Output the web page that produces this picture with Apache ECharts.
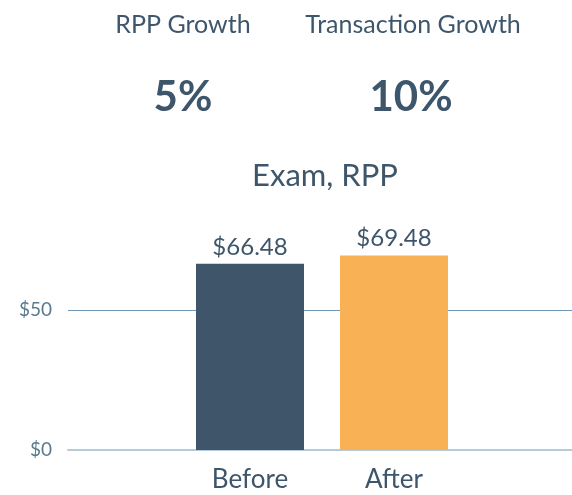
<!DOCTYPE html>
<html lang="en">
<head>
    <meta charset="UTF-8">
    <title>Exam, RPP</title>
    <script src="https://cdn.jsdelivr.net/npm/echarts@6/dist/echarts.min.js"></script>
    <style>
        html, body { margin: 0; padding: 0; background: #fff; }
    </style>
</head>
<body>

<div id="chart" style="width:572px;height:495px;"></div>

<script>

    // data
    var categories = ['Before', 'After'];
    var rppValues = [66.48, 69.48];
    var kpiNames = ['RPP Growth', 'Transaction Growth'];
    var kpiValues = ['5%', '10%'];
    var yTicks = [0, 50];

    var textColor = '#3e566b';
    var barColors = ['#3e556a', '#f9b155'];

    var myChart = echarts.init(document.getElementById('chart'));

    var option = {
        backgroundColor: '#fff',
        textStyle: { fontFamily: 'Lato' },
        title: [
            { text: kpiNames[0], left: 178, top: 7, textAlign: 'center',
              textStyle: { color: textColor, fontSize: 25, fontWeight: 'normal', fontFamily: 'Lato' } },
            { text: kpiNames[1], left: 408, top: 7, textAlign: 'center',
              textStyle: { color: textColor, fontSize: 25, fontWeight: 'normal', fontFamily: 'Lato' } },
            { text: kpiValues[0], left: 178, top: 71, textAlign: 'center',
              textStyle: { color: textColor, fontSize: 42, fontWeight: 'bold', fontFamily: 'Lato' } },
            { text: kpiValues[1], left: 406, top: 71, textAlign: 'center',
              textStyle: { color: textColor, fontSize: 42, fontWeight: 'bold', fontFamily: 'Lato' } },
            { text: 'Exam, RPP', left: 320, top: 155, textAlign: 'center',
              textStyle: { color: textColor, fontSize: 31, fontWeight: 'normal', fontFamily: 'Lato' } }
        ],
        grid: [
            // grid for the horizontal lines
            { left: 68, right: 0, top: 170, bottom: 45 },
            // grid for the bars
            { left: 178, right: 106, top: 170, bottom: 45 }
        ],
        xAxis: [
            {
                gridIndex: 0, type: 'value', min: 0, max: 1,
                axisLine: { show: true, lineStyle: { color: '#b4cbdb', width: 2 } },
                axisTick: { show: false }, axisLabel: { show: false }, splitLine: { show: false }
            },
            {
                gridIndex: 1, type: 'category', data: categories,
                axisLine: { show: false }, axisTick: { show: false },
                axisLabel: { color: textColor, fontSize: 26, margin: 17, fontFamily: 'Lato' }
            }
        ],
        yAxis: [
            {
                gridIndex: 0, type: 'value', min: 0, max: 100, interval: 50,
                axisLine: { show: false }, axisTick: { show: false },
                axisLabel: {
                    color: '#5b7a90', fontSize: 19, margin: 16, fontFamily: 'Lato',
                    formatter: function (v) { return yTicks.indexOf(v) >= 0 ? '$' + v : ''; }
                },
                splitLine: { lineStyle: { color: ['transparent', '#6f98b4', 'transparent'], width: 1 } }
            },
            {
                gridIndex: 1, type: 'value', min: 0, max: 100, show: false
            }
        ],
        series: [
            {
                type: 'bar',
                xAxisIndex: 1,
                yAxisIndex: 1,
                barWidth: 108,
                data: rppValues.map(function (v, i) {
                    return { value: v, itemStyle: { color: barColors[i] } };
                }),
                label: {
                    show: true,
                    position: 'top',
                    distance: 5,
                    color: textColor,
                    fontSize: 24,
                    fontFamily: 'Lato',
                    formatter: function (p) { return '$' + p.value.toFixed(2); }
                }
            }
        ]
    };
    myChart.setOption(option);

</script>

</body>
</html>
